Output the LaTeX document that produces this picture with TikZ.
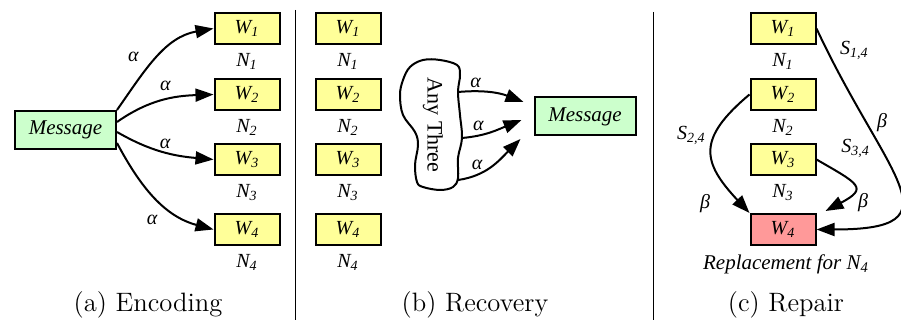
\documentclass[tikz,border=0pt]{standalone}
\usepackage{fontspec}
\newfontfamily\figfont{Liberation Serif}
\usetikzlibrary{positioning, arrows.meta, calc}

\definecolor{sharefill}{HTML}{FFFF99}
\definecolor{msgfill}{HTML}{CCFFCC}
\definecolor{newfill}{HTML}{FF9999}

\tikzset{
  share/.style={draw, line width=1pt, fill=sharefill, minimum width=32.5pt,
    minimum height=15.5pt, inner sep=0pt, font=\figfont\itshape\fontsize{10}{12}\selectfont},
  msg/.style={draw, line width=1pt, fill=msgfill, minimum width=50.5pt,
    minimum height=19pt, inner sep=0pt, font=\figfont\itshape\fontsize{10.5}{12}\selectfont},
  nodelbl/.style={inner sep=0pt, font=\figfont\itshape\fontsize{10}{12}\selectfont},
  lbl/.style={inner sep=1pt, font=\figfont\itshape\fontsize{10}{12}\selectfont},
  flow/.style={-{Triangle[length=9pt,width=6.5pt]}, line width=1pt},
  caption/.style={anchor=base, font=\fontsize{13.3}{16}\selectfont},
}

\begin{document}
\begin{tikzpicture}[x=0.5pt, y=-0.5pt]
  \useasboundingbox (0,0) rectangle (901,320);

  % (a) Encoding
  \node[msg] (msga) at (65.5,130) {Message};
  \node[share] (w1a) at (247,28.5) {W\textsubscript{1}};
  \node[share] (w2a) at (247,94.5) {W\textsubscript{2}};
  \node[share] (w3a) at (247,159.5) {W\textsubscript{3}};
  \node[share] (w4a) at (247,229.5) {W\textsubscript{4}};
  \node[nodelbl, below=4pt of w1a] (n1a) {N\textsubscript{1}};
  \node[nodelbl, below=4pt of w2a] (n2a) {N\textsubscript{2}};
  \node[nodelbl, below=4pt of w3a] (n3a) {N\textsubscript{3}};
  \node[nodelbl, below=4pt of w4a] (n4a) {N\textsubscript{4}};

  \draw[flow] (msga.north east) to[out=55, in=190]
    node[lbl, pos=0.5, left=8pt] {α} (w1a.west);
  \draw[flow] ($(msga.east)+(0,-8)$) to[out=35, in=182]
    node[lbl, pos=0.53, above=3pt] {α} (w2a.west);
  \draw[flow] ($(msga.east)+(0,2)$) to[out=-30, in=175]
    node[lbl, pos=0.52, above=0.5pt] {α} (w3a.west);
  \draw[flow] ($(msga.east)+(0,13)$) to[out=-62, in=165]
    node[lbl, pos=0.55, anchor=north east, yshift=-5pt] {α} (w4a.west);

  \node[caption] (capa) at (148,312) {(a) Encoding};
  \draw[line width=0.5pt] (295,10) -- (295,320);

  % (b) Recovery
  \node[share] (w1b) at (348,28.5) {W\textsubscript{1}};
  \node[share] (w2b) at (348,94.5) {W\textsubscript{2}};
  \node[share] (w3b) at (348,159.5) {W\textsubscript{3}};
  \node[share] (w4b) at (348,229.5) {W\textsubscript{4}};
  \node[nodelbl, below=4pt of w1b] (n1b) {N\textsubscript{1}};
  \node[nodelbl, below=4pt of w2b] (n2b) {N\textsubscript{2}};
  \node[nodelbl, below=4pt of w3b] (n3b) {N\textsubscript{3}};
  \node[nodelbl, below=4pt of w4b] (n4b) {N\textsubscript{4}};

  \draw[line width=1pt] plot[smooth cycle, tension=0.6] coordinates {
    (403,80) (410,67) (423,60) (440,60) (457,65) (460,75) (458,92)
    (460,115) (462,138) (458,158) (458,178) (453,187) (440,190)
    (423,187) (417,182) (415,165) (418,145) (415,132) (403,115) (400,95)};
  \node[rotate=-90, inner sep=0pt, font=\figfont\fontsize{11}{13}\selectfont]
    (anythree) at (433,125) {Any Three};
  \coordinate (out1) at (458,92);
  \coordinate (out2) at (462,138);
  \coordinate (out3) at (458,180);

  \node[msg] (msgb) at (585,116.5) {Message};
  \coordinate (in1) at ($(msgb.west)+(-10,-14.5)$);
  \coordinate (in2) at ($(msgb.west)+(-12,3.5)$);
  \coordinate (in3) at ($(msgb.west)+(-13,22.5)$);

  \draw[flow] (out1) to[out=5, in=159]
    node[lbl, pos=0.25, above=0.5pt] {α} (in1);
  \draw[flow] (out2) to[out=5, in=202]
    node[lbl, pos=0.25, above=1pt] {α} (in2);
  \draw[flow] (out3) to[out=8, in=225]
    node[lbl, pos=0.25, above=1pt] {α} (in3);

  \node[caption] (capb) at (475,312) {(b) Recovery};
  \draw[line width=0.5pt] (653,12) -- (653,320);

  % (c) Repair
  \node[share] (w1c) at (783,28.5) {W\textsubscript{1}};
  \node[share] (w2c) at (783,94.5) {W\textsubscript{2}};
  \node[share] (w3c) at (783,159.5) {W\textsubscript{3}};
  \node[share, fill=newfill] (w4c) at (783,229.5) {W\textsubscript{4}};
  \node[nodelbl, below=4pt of w1c] (n1c) {N\textsubscript{1}};
  \node[nodelbl, below=4pt of w2c] (n2c) {N\textsubscript{2}};
  \node[nodelbl, below=4pt of w3c] (n3c) {N\textsubscript{3}};
  \node[nodelbl, below=4pt of w4c, xshift=1.5pt, font=\figfont\itshape\fontsize{10.5}{12}\selectfont]
    (repl) {Replacement for N\textsubscript{4}};
  \coordinate (in34) at ($(w4c.north east)+(9,-2)$);

  \draw[flow] (w1c.east) to[out=-65, in=0, out looseness=2.1, in looseness=1.85]
    node[lbl, pos=0.08, anchor=south west, xshift=2pt] {S\textsubscript{1,4}}
    node[lbl, pos=0.25, right=4pt] {β} (w4c.east);
  \draw[flow] (w2c.west) to[out=220, in=133, looseness=1.5]
    node[lbl, pos=0.35, left=3pt] {S\textsubscript{2,4}}
    node[lbl, pos=0.85, anchor=north east, xshift=-9pt] {β} (w4c.north west);
  \draw[flow] (w3c.east) to[out=-30, in=28, looseness=2.4]
    node[lbl, pos=0.15, anchor=south west, xshift=2.5pt, yshift=4.5pt] {S\textsubscript{3,4}}
    node[lbl, pos=0.6, anchor=north west, xshift=1pt] {β} (in34);

  \node[caption] (capc) at (786,312) {(c) Repair};
\end{tikzpicture}
\end{document}
